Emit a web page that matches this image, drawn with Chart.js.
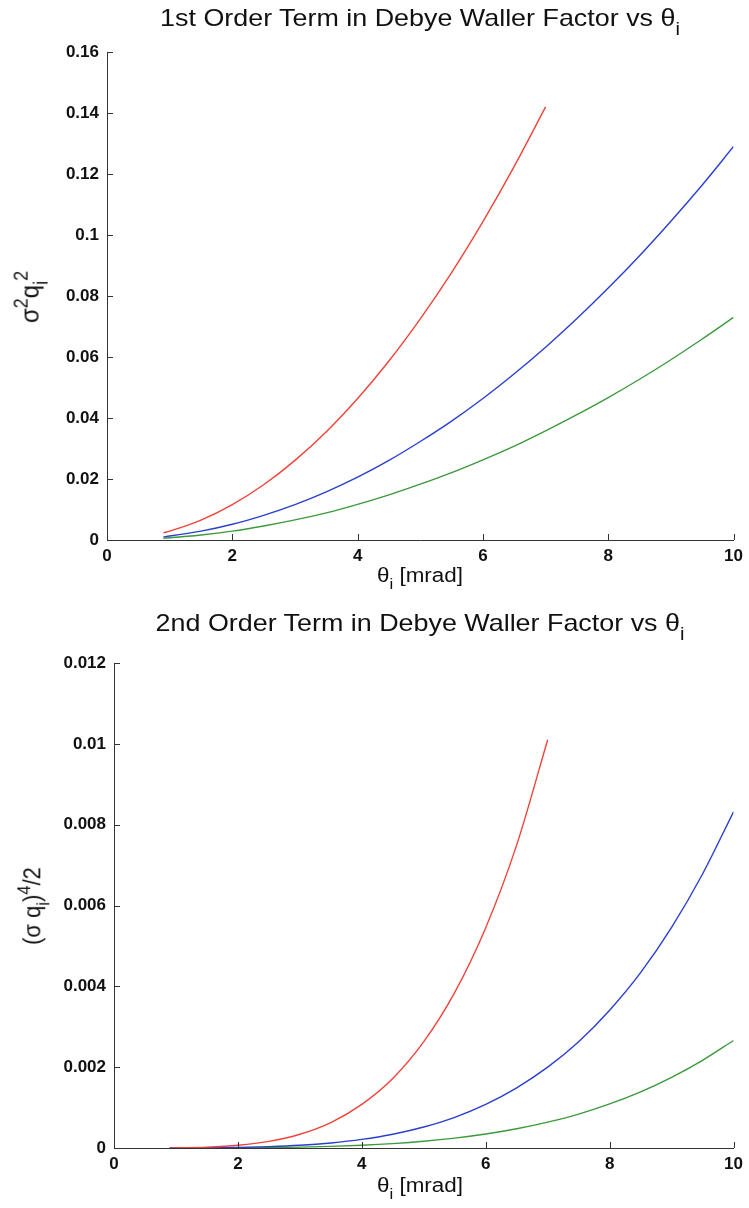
<!DOCTYPE html>
<html>
<head>
<meta charset="utf-8">
<script src="https://cdn.jsdelivr.net/npm/chart.js@4"></script>
<style>
  body { margin: 0; background: #fff; }
  #wrap { position: relative; width: 749px; height: 1208px; font-family: "Liberation Sans", Arial, sans-serif; color: #111; }
  canvas { position: absolute; left: 0; }
  .lbl { position: absolute; white-space: nowrap; font-size: 22px; line-height: 1; }
  .lbl sub { font-size: 0.75em; vertical-align: -0.45em; }
  .lbl sup { font-size: 0.75em; vertical-align: 0.6em; }
  .rot { transform: translate(-50%, -50%) rotate(-90deg) scaleY(1.1); }
  .ctr { transform: translate(-50%, -50%) scaleX(1.12); }
</style>
</head>
<body>
<div id="wrap">
  <canvas id="c1" width="749" height="600" style="top:0"></canvas>
  <canvas id="c2" width="749" height="608" style="top:600px"></canvas>

  <div class="lbl ctr" style="left:420px; top:22px; font-size:24px">1st Order Term in Debye Waller Factor vs &theta;<sub>i</sub></div>
  <div class="lbl ctr" style="left:420px; top:578px; font-size:20px">&theta;<sub>i</sub> [mrad]</div>
  <div class="lbl rot" style="left:31px; top:297px; font-size:24px">&sigma;<sup>2</sup>q<sub>i</sub><sup>2</sup></div>

  <div class="lbl ctr" style="left:420px; top:627px; font-size:24px">2nd Order Term in Debye Waller Factor vs &theta;<sub>i</sub></div>
  <div class="lbl ctr" style="left:420px; top:1188px; font-size:20px">&theta;<sub>i</sub> [mrad]</div>
  <div class="lbl rot" style="left:33px; top:906px; font-size:22px">(&sigma; q<sub>i</sub>)<sup>4</sup>/2</div>
</div>
<script>
// theta_i [mrad]
const thetaAll = [0.9, 1, 1.5, 2, 2.5, 3, 3.5, 4, 4.5, 5, 5.5, 6, 6.5, 7, 7.5, 8, 8.5, 9, 9.5, 10];
const thetaRed = [0.9, 1, 1.5, 2, 2.5, 3, 3.5, 4, 4.5, 5, 5.5, 6, 6.5, 7];

// 1st order term sigma^2 q^2
const red1 = [0.00235, 0.0029, 0.0065, 0.0116, 0.0181, 0.0261, 0.0355, 0.0464, 0.0587, 0.0725, 0.0877, 0.1044, 0.1225, 0.142];
const blue1 = [0.00104, 0.00129, 0.0029, 0.00516, 0.0081, 0.0116, 0.0158, 0.0206, 0.0261, 0.0323, 0.039, 0.0464, 0.0545, 0.0632, 0.0726, 0.0826, 0.0932, 0.1045, 0.1164, 0.129];
const green1 = [0.00059, 0.00073, 0.00164, 0.0029, 0.0046, 0.0066, 0.0089, 0.0117, 0.0148, 0.0183, 0.0221, 0.0263, 0.0308, 0.0358, 0.0411, 0.0467, 0.0527, 0.0591, 0.0659, 0.073];

// 2nd order term (sigma q)^4 / 2
const red2 = [0.000003, 0.000004, 0.000021, 0.000067, 0.000164, 0.00034, 0.00063, 0.00108, 0.00172, 0.00263, 0.00385, 0.00545, 0.0075, 0.0101];
const blue2 = [0.0000005, 0.0000008, 0.0000042, 0.000013, 0.000033, 0.000067, 0.000125, 0.000213, 0.000341, 0.00052, 0.00076, 0.00108, 0.00149, 0.002, 0.00263, 0.00341, 0.00434, 0.00546, 0.00678, 0.00832];
const green2 = [0.0000002, 0.0000003, 0.0000013, 0.0000043, 0.0000104, 0.000022, 0.00004, 0.000068, 0.000109, 0.000166, 0.000243, 0.000345, 0.000475, 0.00064, 0.00084, 0.00109, 0.00139, 0.00175, 0.00217, 0.00266];

// tick labels
const xTicks = [0, 2, 4, 6, 8, 10];
const yTicks1 = [0, 0.02, 0.04, 0.06, 0.08, 0.1, 0.12, 0.14, 0.16];
const yTicks2 = [0, 0.002, 0.004, 0.006, 0.008, 0.01, 0.012];

const pts = (xs, ys) => ys.map((y, i) => ({ x: xs[i], y: y }));

// MATLAB style inward tick marks
const innerTicks = {
  id: 'innerTicks',
  afterDraw(chart) {
    const { ctx, chartArea, scales } = chart;
    ctx.save();
    ctx.strokeStyle = '#333';
    ctx.lineWidth = 1;
    ctx.beginPath();
    scales.y.ticks.forEach(t => {
      const py = Math.round(scales.y.getPixelForValue(t.value)) + 0.5;
      ctx.moveTo(chartArea.left, py);
      ctx.lineTo(chartArea.left + 6, py);
    });
    scales.x.ticks.forEach(t => {
      const px = Math.round(scales.x.getPixelForValue(t.value)) + 0.5;
      ctx.moveTo(px, chartArea.bottom);
      ctx.lineTo(px, chartArea.bottom - 6);
    });
    ctx.stroke();
    ctx.restore();
  }
};

const tickFont = { family: 'Liberation Sans', size: 17, weight: 'bold' };

function makeChart(id, datasets, yTicks, yMax, leftW, padTop, padBottom) {
  return new Chart(document.getElementById(id), {
    type: 'line',
    data: { datasets: datasets },
    options: {
      responsive: false,
      animation: false,
      layout: { padding: { top: padTop, right: 14, bottom: padBottom, left: 0 } },
      plugins: { legend: { display: false }, tooltip: { enabled: false } },
      elements: { point: { radius: 0 }, line: { borderWidth: 1.4, tension: 0.4, cubicInterpolationMode: 'monotone' } },
      scales: {
        x: {
          type: 'linear', min: 0, max: 10,
          afterBuildTicks: s => { s.ticks = xTicks.map(v => ({ value: v })); },
          afterFit: s => { s.height = 30; },
          grid: { display: false, drawTicks: false },
          border: { display: true, color: '#333', width: 1 },
          ticks: { color: '#111', padding: 6, font: tickFont, callback: v => String(v) }
        },
        y: {
          type: 'linear', min: 0, max: yMax,
          afterBuildTicks: s => { s.ticks = yTicks.map(v => ({ value: v })); },
          afterFit: s => { s.width = leftW; },
          grid: { display: false, drawTicks: false },
          border: { display: true, color: '#333', width: 1 },
          ticks: { color: '#111', padding: 8, font: tickFont, callback: v => String(v) }
        }
      }
    },
    plugins: [innerTicks]
  });
}

makeChart('c1', [
  { data: pts(thetaRed, red1), borderColor: '#f0443a' },
  { data: pts(thetaAll, blue1), borderColor: '#2a3fd0' },
  { data: pts(thetaAll, green1), borderColor: '#3c9a3c' }
], yTicks1, 0.16, 107, 52, 30);

makeChart('c2', [
  { data: pts(thetaRed, red2), borderColor: '#f0443a' },
  { data: pts(thetaAll, blue2), borderColor: '#2a3fd0' },
  { data: pts(thetaAll, green2), borderColor: '#3c9a3c' }
], yTicks2, 0.012, 114, 63, 30);
</script>
</body>
</html>
